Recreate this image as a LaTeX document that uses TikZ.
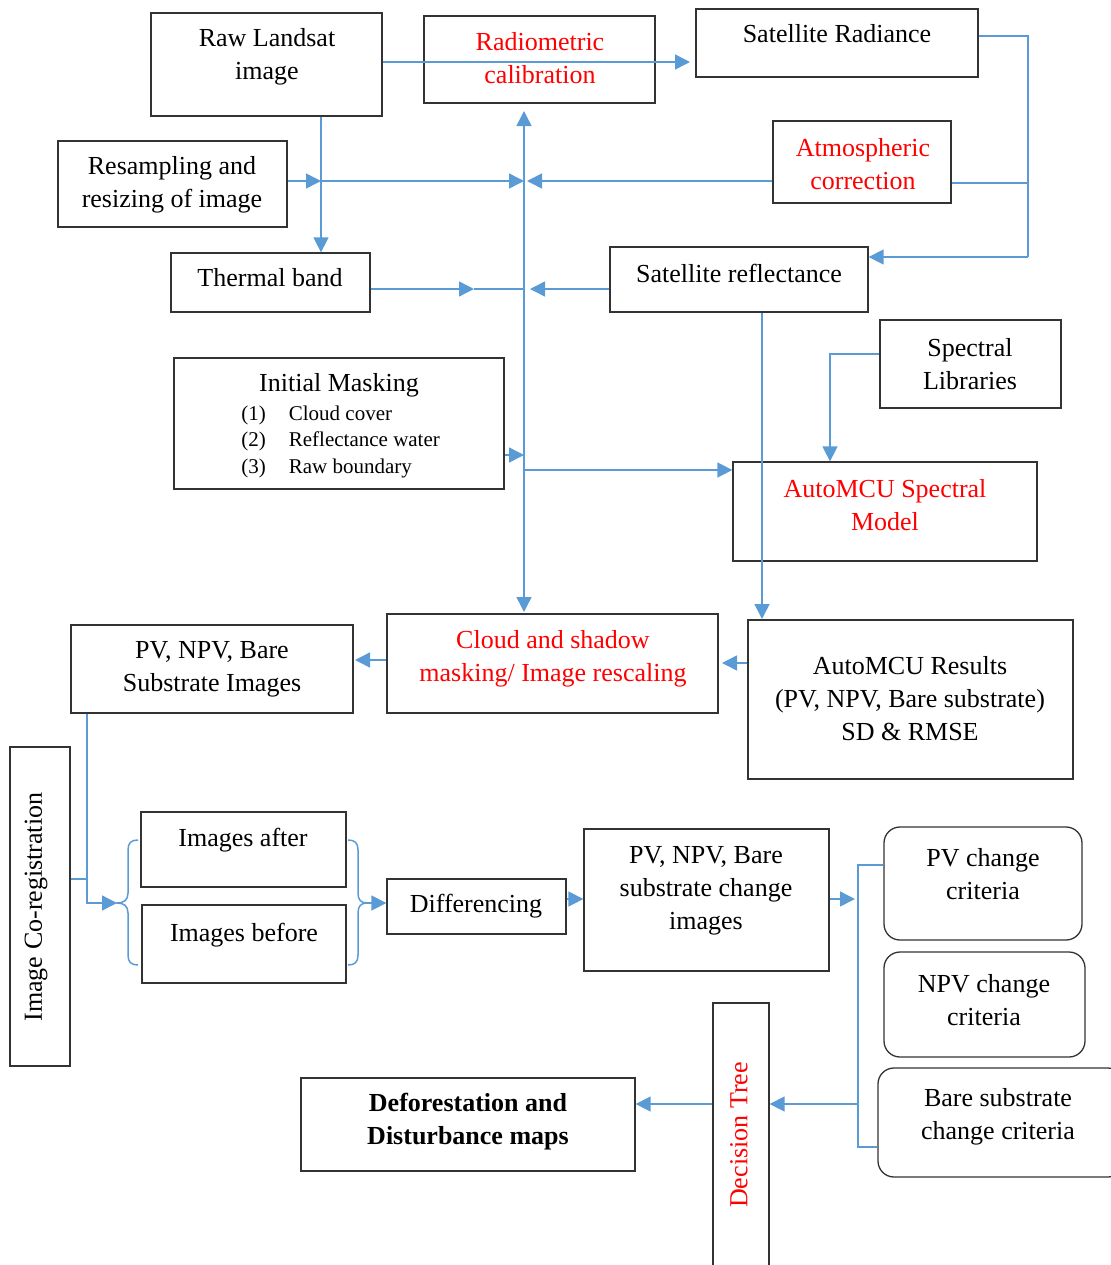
\documentclass[tikz,border=0pt]{standalone}
\usepackage{fontspec}
\setmainfont{Liberation Serif}
\usetikzlibrary{arrows.meta,fit}
\definecolor{lnblue}{HTML}{5B9BD5}
\definecolor{bxgray}{HTML}{333333}
\begin{document}
\begin{tikzpicture}[x=0.5pt,y=-0.5pt,
  box/.style={draw=bxgray, line width=0.65pt, inner sep=0pt},
  rbox/.style={box, rounded corners=8pt},
  txt/.style={inner sep=0pt, align=center, font=\fontsize{13}{16.5}\selectfont},
  rtxt/.style={txt, text=red},
  ln/.style={draw=lnblue, line width=0.75pt},
  arr/.style={ln, -{Triangle[length=7.5pt,width=7.5pt]}},
  darr/.style={ln, {Triangle[length=7.5pt,width=7.5pt]}-{Triangle[length=7.5pt,width=7.5pt]}},
]
\useasboundingbox (0,0) rectangle (1110,1265);

% ---------- boxes ----------
\node[box, fit={(151,13) (382,116)}] (raw) {};
\node[txt] (rawt) at (267,57) {Raw Landsat\\image};

\node[box, fit={(424,16) (655,103)}] (radio) {};
\node[rtxt] (radiot) at (540,58) {Radiometric\\calibration};

\node[box, fit={(696,9) (978,77)}] (srad) {};
\node[txt] (sradt) at (837,34) {Satellite Radiance};

\node[box, fit={(58,141) (287,227)}] (res) {};
\node[txt] (rest) at (172,185) {Resampling and\\resizing of image};

\node[box, fit={(773,121) (951,203)}] (atm) {};
\node[rtxt] (atmt) at (863,164) {Atmospheric\\correction};

\node[box, fit={(171,253) (370,312)}] (therm) {};
\node[txt] (thermt) at (270,278) {Thermal band};

\node[box, fit={(610,247) (868,312)}] (sref) {};
\node[txt] (sreft) at (739,273) {Satellite reflectance};

\node[box, fit={(880,320) (1061,408)}] (spec) {};
\node[txt] (spect) at (970,364) {Spectral\\Libraries};

\node[box, fit={(174,358) (504,489)}] (im) {};
\node[txt] (imt) at (339,385) {Initial Masking};
\node[inner sep=0pt, anchor=base west, font=\fontsize{10.5}{13.25}\selectfont] (imitems) at (241,420)
  {\begin{tabular}[t]{@{}l@{\hspace{11.5pt}}l@{}}(1) & Cloud cover\\(2) & Reflectance water\\(3) & Raw boundary\end{tabular}};

\node[box, fit={(733,462) (1037,561)}] (mcu) {};
\node[rtxt] (mcut) at (885,505) {AutoMCU Spectral\\Model};

\node[box, fit={(387,614) (718,713)}] (cloud) {};
\node[rtxt] (cloudt) at (553,659) {Cloud and shadow\\masking/ Image rescaling};

\node[box, fit={(71,625) (353,713)}] (pvimg) {};
\node[txt] (pvimgt) at (212,669) {PV, NPV, Bare\\Substrate Images};

\node[box, fit={(748,620) (1073,779)}] (resu) {};
\node[txt] (resut) at (910,699) {AutoMCU Results\\(PV, NPV, Bare substrate)\\SD \& RMSE};

\node[box, fit={(10,747) (70,1066)}] (coreg) {};
\node[txt, rotate=90] (coregt) at (36,907) {Image Co-registration};

\node[box, fit={(141,812) (346,887)}] (after) {};
\node[txt] (aftert) at (243,840) {Images after};

\node[box, fit={(142,905) (346,983)}] (before) {};
\node[txt] (beforet) at (244,935) {Images before};

\node[box, fit={(387,879) (566,934)}] (diff) {};
\node[txt] (difft) at (476,906) {Differencing};

\node[box, fit={(584,829) (829,971)}] (chg) {};
\node[txt] (chgt) at (706,891) {PV, NPV, Bare\\substrate change\\images};

\node[rbox, fit={(884,827) (1082,940)}] (pvc) {};
\node[txt] (pvct) at (983,874) {PV change\\criteria};

\node[rbox, fit={(884,952) (1085,1057)}] (npvc) {};
\node[txt] (npvct) at (984,1000) {NPV change\\criteria};

\node[rbox, fit={(878,1068) (1124,1177)}] (bare) {};
\node[txt] (baret) at (998,1117) {Bare substrate\\change criteria};

\node[box, fit={(713,1003) (769,1285)}] (dt) {};
\node[rtxt, rotate=90] (dtt) at (739,1135) {Decision Tree};

\node[box, fit={(301,1078) (635,1171)}] (defor) {};
\node[txt, font=\fontsize{13}{16.5}\selectfont\bfseries] (defort) at (468,1122) {Deforestation and\\Disturbance maps};

% ---------- coordinates ----------
\coordinate (radTip) at (690,62);
\coordinate (jA) at (321,181);
\coordinate (jB) at (524,181);
\coordinate (atmTip) at (527,181);
\coordinate (jC) at (524,289);
\coordinate (thMid) at (474,289);
\coordinate (srTip) at (530,289);
\coordinate (trTop) at (524,111);
\coordinate (trBot) at (524,612);
\coordinate (jD) at (524,455);
\coordinate (jE) at (524,470);
\coordinate (rN) at (1028,36);
\coordinate (rM) at (1028,183);
\coordinate (rS) at (1028,257);
\coordinate (srv) at (762,619);
\coordinate (spK) at (830,354);
\coordinate (rcl) at (722,663);
\coordinate (cpl) at (355,660);
\coordinate (pvx) at (87,879);
\coordinate (lbrTip) at (117,903);
\coordinate (rbrTip) at (367,903);
\coordinate (dcy) at (566,899);
\coordinate (chgTip) at (855,899);
\coordinate (vt) at (858,865);
\coordinate (vm) at (858,1104);
\coordinate (vb) at (858,1147);

% ---------- connectors ----------
\draw[arr] (raw.east |- radTip) -- (radTip);
\draw[arr] (jA |- raw.south) -- (jA |- therm.north);
\draw[arr] (res.east |- jA) -- (jA);
\draw[arr] (jA) -- (jB);
\draw[arr] (atm.west |- atmTip) -- (atmTip);
\draw[darr] (trTop) -- (trBot);
\draw[arr] (therm.east |- jC) -- (thMid);
\draw[ln] (thMid) -- (jC);
\draw[arr] (sref.west |- srTip) -- (srTip);
\draw[ln] (srad.east |- rN) -- (rN) -- (rS);
\draw[ln] (atm.east |- rM) -- (rM);
\draw[arr] (rS) -- (rS -| sref.east);
\draw[arr] (srv |- sref.south) -- (srv);
\draw[arr] (spec.west |- spK) -- (spK) -- (spK |- mcu.north);
\draw[arr] (im.east |- jD) -- (jD);
\draw[arr] (jE) -- (jE -| mcu.west);
\draw[arr] (resu.west |- rcl) -- (rcl);
\draw[arr] (cloud.west |- cpl) -- (cpl);
\draw[ln] (coreg.east |- pvx) -- (pvx);
\draw[arr] (pvx |- pvimg.south) |- (lbrTip);
\draw[ln] (138,840) .. controls (131,840) and (128,843) .. (128,850) -- (128,893)
  .. controls (128,900) and (124,903) .. (117,903)
  .. controls (124,903) and (128,906) .. (128,913) -- (128,955)
  .. controls (128,962) and (131,965) .. (138,965);
\draw[ln] (348,840) .. controls (355,840) and (358,843) .. (358,850) -- (358,893)
  .. controls (358,900) and (361,903) .. (367,903)
  .. controls (361,903) and (358,906) .. (358,913) -- (358,955)
  .. controls (358,962) and (355,965) .. (348,965);
\draw[arr] (rbrTip) -- (rbrTip -| diff.west);
\draw[arr] (diff.east |- dcy) -- (dcy -| chg.west);
\draw[arr] (chg.east |- chgTip) -- (chgTip);
\draw[ln] (pvc.west |- vt) -- (vt) -- (vb) -- (vb -| bare.west);
\draw[arr] (vm) -- (vm -| dt.east);
\draw[arr] (dt.west |- vm) -- (vm -| defor.east);
\end{tikzpicture}
\end{document}
